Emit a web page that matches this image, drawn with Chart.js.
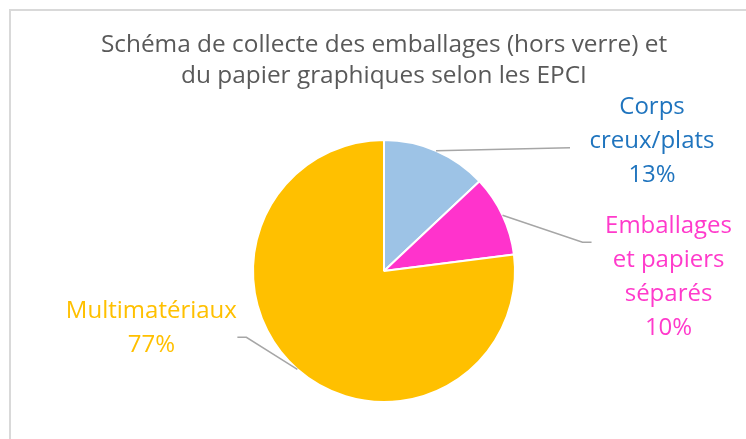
<!DOCTYPE html>
<html>
<head>
<meta charset="utf-8">
<script src="https://cdn.jsdelivr.net/npm/chart.js@4/dist/chart.umd.min.js"></script>
<style>
  html, body { margin: 0; padding: 0; background: #fff; }
  #wrap { position: relative; width: 746px; height: 439px; }
</style>
</head>
<body>
<div id="wrap"><canvas id="pie" width="746" height="439"></canvas></div>
<script>
// data
const categories = [['Corps', 'creux/plats'], ['Emballages', 'et papiers', 'séparés'], ['Multimatériaux']];
const shares = [13, 10, 77];
const titleLines = ['Schéma de collecte des emballages (hors verre) et', 'du papier graphiques selon les EPCI'];

const sliceColors = ['#9DC3E6', '#FF33CC', '#FFC000'];
const textColors = ['#1F74BE', '#FF3ACB', '#FFC000'];
const FONT = '"Open Sans", sans-serif';

// leader line bends and text block centre, relative to the slice's outer mid point
const labelLayout = [
  { path: [[134, -3]], text: [216, -10] },
  { path: [[80, 27], [89, 27]], text: [166, 62] },
  { path: [[-51, -32], [-60, -32]], text: [-146, -41] }
];

const frame = {
  id: 'frame',
  beforeDraw(chart) {
    const ctx = chart.ctx;
    ctx.save();
    ctx.strokeStyle = '#D9D9D9';
    ctx.lineWidth = 2;
    ctx.strokeRect(10, 10, 800, 500);
    ctx.restore();
  }
};

const outsideLabels = {
  id: 'outsideLabels',
  afterDatasetsDraw(chart) {
    const ctx = chart.ctx;
    const meta = chart.getDatasetMeta(0);
    const vals = chart.data.datasets[0].data;
    const total = vals.reduce((a, b) => a + b, 0);
    ctx.save();
    meta.data.forEach((arc, i) => {
      const p = arc.getProps(['x', 'y', 'startAngle', 'endAngle', 'outerRadius'], true);
      const mid = (p.startAngle + p.endAngle) / 2;
      const ax = p.x + Math.cos(mid) * p.outerRadius;
      const ay = p.y + Math.sin(mid) * p.outerRadius;
      const lay = labelLayout[i];

      ctx.strokeStyle = '#A6A6A6';
      ctx.lineWidth = 1.5;
      ctx.beginPath();
      ctx.moveTo(ax, ay);
      lay.path.forEach(([dx, dy]) => ctx.lineTo(ax + dx, ay + dy));
      ctx.stroke();

      const lines = [].concat(chart.data.labels[i], Math.round(vals[i] / total * 100) + '%');
      const lh = 34;
      const cx = ax + lay.text[0];
      const cy = ay + lay.text[1];
      ctx.fillStyle = textColors[i];
      ctx.font = '24px ' + FONT;
      ctx.textAlign = 'center';
      ctx.textBaseline = 'middle';
      lines.forEach((t, k) => {
        ctx.fillText(t, cx, cy + (k - (lines.length - 1) / 2) * lh);
      });
    });
    ctx.restore();
  }
};

new Chart(document.getElementById('pie'), {
  type: 'pie',
  data: {
    labels: categories,
    datasets: [{
      data: shares,
      backgroundColor: sliceColors,
      borderColor: '#FFFFFF',
      borderWidth: 2,
      hoverOffset: 0
    }]
  },
  options: {
    responsive: false,
    animation: false,
    events: [],
    layout: { padding: { left: 22, right: 0, top: 0, bottom: 36 } },
    plugins: {
      legend: { display: false },
      tooltip: { enabled: false },
      title: {
        display: true,
        text: titleLines,
        color: '#595959',
        font: { family: FONT, size: 24.4, weight: 'normal', lineHeight: '31px' },
        padding: { top: 30, bottom: 47 }
      }
    }
  },
  plugins: [frame, outsideLabels]
});
</script>
</body>
</html>
